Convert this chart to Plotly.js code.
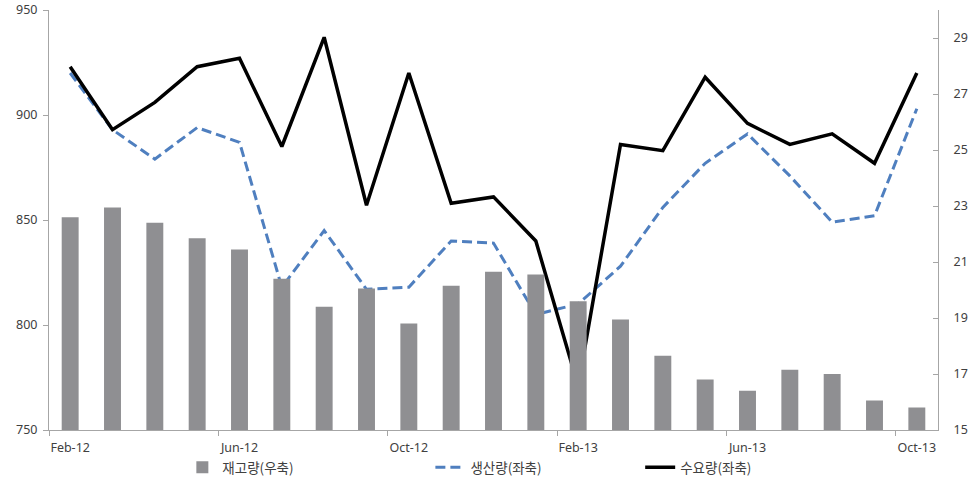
<!DOCTYPE html>
<html>
<head>
<meta charset="utf-8">
<script src="https://cdn.plot.ly/plotly-3.0.1.min.js"></script>
<style>html,body{margin:0;padding:0;background:#fff;}#chart{width:976px;height:482px;}</style>
</head>
<body>
<div id="chart"></div>
<script>
var months = ["Feb-12","Mar-12","Apr-12","May-12","Jun-12","Jul-12","Aug-12","Sep-12","Oct-12","Nov-12","Dec-12","Jan-13",
              "Feb-13","Mar-13","Apr-13","May-13","Jun-13","Jul-13","Aug-13","Sep-13","Oct-13"];
var inventory = [22.6,22.95,22.4,21.85,21.45,20.4,19.4,20.05,18.8,20.15,20.65,20.55,19.6,18.95,17.65,16.8,16.4,17.15,17.0,16.05,15.8];
var production = [920,893,879,894,887,818,845,817,818,840,839,805,810,828,856,877,891,871,849,852,903];
var demand = [923,893,906,923,927,885,937,857,920,858,861,840,771,886,883,918,896,886,891,877,920];
var seriesNames = ["재고량(우축)","생산량(좌축)","수요량(좌축)"];

var font = {family: "Noto Sans, Noto Sans CJK KR, sans-serif", size: 12.5, color: "#404040"};
var traces = [
  {type: "bar", x: months, y: inventory, name: seriesNames[0], yaxis: "y2",
   marker: {color: "#8f8f92"}, legend: "legend"},
  {type: "scatter", mode: "lines", x: months, y: production, name: seriesNames[1],
   line: {color: "#4f7fbf", width: 3, dash: "10px,5px"}, legend: "legend2"},
  {type: "scatter", mode: "lines", x: months, y: demand, name: seriesNames[2],
   line: {color: "#000000", width: 3.5}, legend: "legend3"}
];
var legendBase = {orientation: "h", yref: "container", yanchor: "middle", y: 0.03, xanchor: "left",
  font: {family: "Noto Sans CJK KR, sans-serif", size: 13.5, color: "#404040"}, bgcolor: "rgba(0,0,0,0)", itemwidth: 30};
var layout = {
  width: 976, height: 482,
  margin: {l: 49, r: 38, t: 10, b: 52, autoexpand: false},
  paper_bgcolor: "#fff", plot_bgcolor: "#fff",
  font: font,
  bargap: 0.6,
  showlegend: true,
  xaxis: {type: "category", showgrid: false, showline: true, linecolor: "#a6a6a6", linewidth: 1,
    ticks: "outside", ticklen: 5, tickcolor: "#a6a6a6", tickson: "boundaries", dtick: 4,
    tickangle: 0, ticklabelstandoff: 6, automargin: false,
    tickfont: font, range: [-0.5, 20.5], zeroline: false},
  yaxis: {range: [750, 950], dtick: 50, showgrid: false, showline: true, linecolor: "#a6a6a6",
    ticks: "outside", ticklen: 5, tickcolor: "#a6a6a6", tickfont: font, zeroline: false, automargin: false,
    ticklabelstandoff: 3},
  yaxis2: {range: [15, 30], tickvals: [15,17,19,21,23,25,27,29], overlaying: "y", side: "right",
    showgrid: false, showline: true, linecolor: "#a6a6a6", ticks: "inside", ticklen: 5,
    tickcolor: "#a6a6a6", tickfont: font, zeroline: false, automargin: false, ticklabelstandoff: 12},
  legend: Object.assign({}, legendBase, {x: 0.15}),
  legend2: Object.assign({}, legendBase, {x: 0.429}),
  legend3: Object.assign({}, legendBase, {x: 0.665})
};
Plotly.newPlot("chart", traces, layout, {displayModeBar: false, staticPlot: true});
</script>
</body>
</html>
